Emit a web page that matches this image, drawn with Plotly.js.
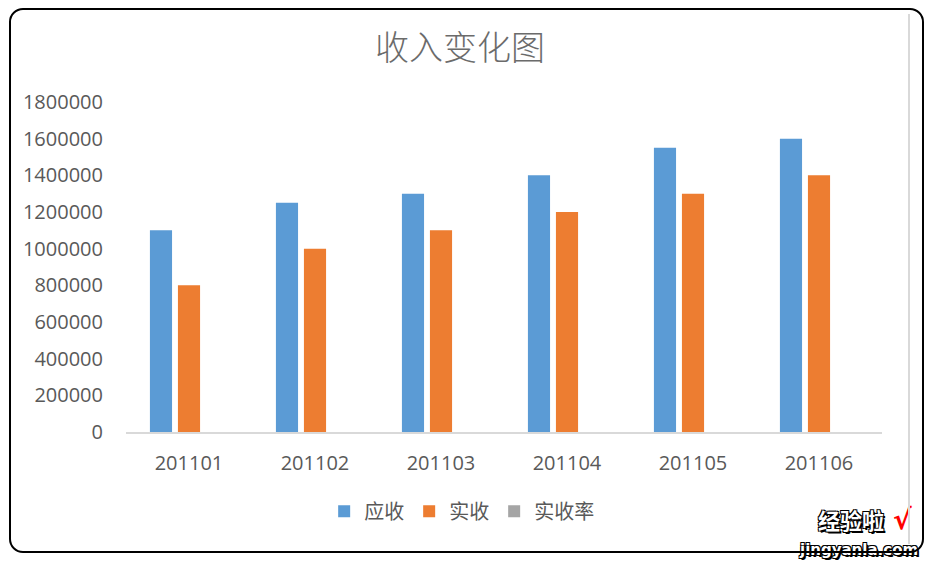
<!DOCTYPE html>
<html>
<head>
<meta charset="utf-8">
<script src="https://cdn.plot.ly/plotly-3.0.1.min.js"></script>
<style>
  html, body { margin: 0; padding: 0; background: #fff; }
  #wrap { position: relative; width: 937px; height: 565px; }
  #chart { position: absolute; left: 0; top: 0; width: 937px; height: 565px; }
  #frame { position: absolute; left: 9px; top: 8px; width: 911px; height: 541px;
           border: 2px solid #000; border-radius: 14px; pointer-events: none; }
  #edge { position: absolute; left: 908px; top: 14px; width: 2px; height: 530px;
          background: #d9d9d9; pointer-events: none; }
</style>
</head>
<body>
<div id="wrap">
  <div id="chart"></div>
  <div id="edge"></div>
  <div id="frame"></div>
</div>
<script>
const categories = ['201101', '201102', '201103', '201104', '201105', '201106'];
const yingshou = [1100000, 1250000, 1300000, 1400000, 1550000, 1600000];
const shishou = [800000, 1000000, 1100000, 1200000, 1300000, 1400000];
const shishoulv = [0.73, 0.8, 0.85, 0.86, 0.84, 0.88];
const yTicks = [0, 200000, 400000, 600000, 800000, 1000000, 1200000, 1400000, 1600000, 1800000];

const tickFont = { family: 'Open Sans, Liberation Sans, sans-serif', size: 20, color: '#595959' };
const cjk = 'Noto Sans CJK SC, sans-serif';

const traces = [
  { type: 'bar', name: '应收', x: categories, y: yingshou, marker: { color: '#5b9bd5' } },
  { type: 'bar', name: '实收', x: categories, y: shishou, marker: { color: '#ed7d31' } },
  { type: 'bar', name: '实收率', x: categories, y: shishoulv, marker: { color: '#a5a5a5' } }
];

const outline = '1px 1px 0 #000, -1px -1px 0 #000, 1px -1px 0 #000, -1px 1px 0 #000, 2px 2px 0 #000';

const layout = {
  width: 937, height: 565,
  margin: { l: 126, r: 55, t: 102, b: 133 },
  paper_bgcolor: '#ffffff', plot_bgcolor: '#ffffff',
  title: { text: '收入变化图', font: { family: cjk, size: 34, color: '#6b6b6b', weight: 300 },
           x: 0.491, xref: 'container', xanchor: 'center', y: 0.915, yref: 'container', yanchor: 'middle' },
  barmode: 'group', bargap: 0.333, bargroupgap: 0.21,
  showlegend: true,
  legend: { orientation: 'h', x: 0.444, xanchor: 'center', y: -0.24, yanchor: 'middle',
            font: { family: cjk, size: 20, color: '#595959' }, itemwidth: 30, tracegroupgap: 0 },
  xaxis: { type: 'category', showgrid: false, showline: true, linecolor: '#d9d9d9', linewidth: 2,
           ticks: '', tickfont: tickFont, ticklabelstandoff: 12, zeroline: false },
  yaxis: { range: [0, 1800000], tickvals: yTicks, ticktext: yTicks.map(String), showgrid: false,
           showline: false, zeroline: false, ticks: '', tickfont: tickFont, ticklabelstandoff: 22 },
  annotations: [
    { text: '<b>经验啦</b>', xref: 'paper', yref: 'paper', x: (851 - 126) / 756, y: (432 - 519) / 330,
      xanchor: 'center', yanchor: 'middle', showarrow: false,
      font: { family: cjk, size: 22, color: '#ffffff', shadow: outline } },
    { text: '<b>√</b>', xref: 'paper', yref: 'paper', x: (902 - 126) / 756, y: (432 - 519) / 330,
      xanchor: 'center', yanchor: 'middle', showarrow: false,
      font: { family: 'DejaVu Sans, sans-serif', size: 28, color: '#ff0000' } },
    { text: '<b>jingyanla.com</b>', xref: 'paper', yref: 'paper', x: (858 - 126) / 756, y: (432 - 550) / 330,
      xanchor: 'center', yanchor: 'middle', showarrow: false,
      font: { family: 'DejaVu Sans, sans-serif', size: 15, color: '#ffffff', shadow: outline } }
  ]
};

Plotly.newPlot('chart', traces, layout, { displayModeBar: false, staticPlot: true });
</script>
</body>
</html>
